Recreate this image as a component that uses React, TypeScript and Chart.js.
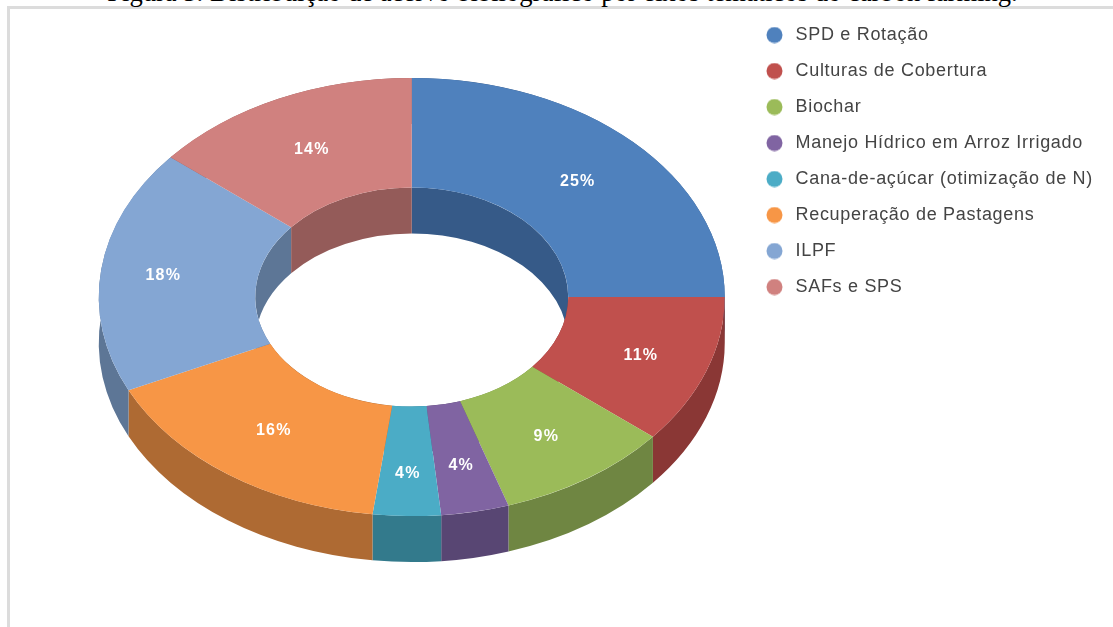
import React, { useEffect, useRef } from "react";
import { Chart, registerables } from "chart.js";

Chart.register(...registerables);

const titleText = "Figura 5. Distribuição de acervo bibliográfico por eixos temáticos do carbon farming.";
const categories = [
  "SPD e Rotação",
  "Culturas de Cobertura",
  "Biochar",
  "Manejo Hídrico em Arroz Irrigado",
  "Cana-de-açúcar (otimização de N)",
  "Recuperação de Pastagens",
  "ILPF",
  "SAFs e SPS",
];
const shares = [25, 11, 9, 3.5, 3.5, 16, 18, 14];
const topColors = ["#4f81bd", "#c0504d", "#9bbb59", "#8064a2", "#4bacc6", "#f79646", "#84a6d3", "#d0817f"];
const wallColors = ["#365a88", "#8a3735", "#6f8642", "#584673", "#337a8c", "#ae6a33", "#5d7696", "#945b59"];
const labelRadius = [0.75, 0.778, 0.765, 0.78, 0.8, 0.75, 0.8, 0.75];

const TILT = 0.7;
const DEPTH = 46;
const LEGEND_SPACING = "0.7px";
const LABEL_SPACING = "1.2px";

function markerFor(color: string) {
  const c = document.createElement("canvas");
  c.width = 17;
  c.height = 17;
  const g = c.getContext("2d")!;
  g.fillStyle = color;
  g.beginPath();
  g.arc(8.5, 8.5, 8, 0, Math.PI * 2);
  g.fill();
  return c;
}

const ring3d = {
  id: "ring3d",
  beforeLayout(chart: any) {
    chart.ctx.letterSpacing = LEGEND_SPACING;
  },
  beforeDraw(chart: any) {
    chart.ctx.letterSpacing = LEGEND_SPACING;
  },
  beforeDatasetsDraw(chart: any) {
    const { ctx } = chart;
    const arcs = chart.getDatasetMeta(0).data;
    const cx = arcs[0].x;
    const cy = arcs[0].y;
    ctx.save();
    ctx.translate(cx, cy);
    ctx.scale(1, TILT);
    const drop = DEPTH / TILT;
    arcs.forEach((a: any, i: number) => {
      ctx.fillStyle = wallColors[i];
      [a.outerRadius, a.innerRadius].forEach((r: number) => {
        ctx.beginPath();
        ctx.arc(0, 0, r, a.startAngle, a.endAngle);
        ctx.arc(0, drop, r, a.endAngle, a.startAngle, true);
        ctx.closePath();
        ctx.fill();
      });
    });
    ctx.translate(-cx, -cy);
  },
  afterDatasetsDraw(chart: any) {
    const { ctx } = chart;
    ctx.restore();
    const arcs = chart.getDatasetMeta(0).data;
    const total = shares.reduce((s, v) => s + v, 0);
    ctx.save();
    ctx.letterSpacing = LABEL_SPACING;
    ctx.fillStyle = "#ffffff";
    ctx.font = "bold 16px 'Liberation Sans'";
    ctx.textAlign = "center";
    ctx.textBaseline = "middle";
    arcs.forEach((a: any, i: number) => {
      const mid = (a.startAngle + a.endAngle) / 2;
      const r = a.outerRadius * labelRadius[i];
      const text = Math.round((shares[i] / total) * 100) + "%";
      ctx.fillText(text, a.x + Math.cos(mid) * r, a.y + Math.sin(mid) * r * TILT + 1);
    });
    ctx.restore();
  },
};

export default function App() {
  const ref = useRef<HTMLCanvasElement>(null);
  useEffect(() => {
    const chart = new Chart(ref.current!, {
      type: "doughnut",
      data: {
        labels: categories,
        datasets: [
          {
            data: shares,
            backgroundColor: topColors,
            borderWidth: 0,
            clip: false,
          } as any,
        ],
      },
      plugins: [ring3d as any],
      options: {
        animation: false,
        responsive: false,
        radius: 313,
        cutout: "50%",
        layout: { padding: { left: 79, right: 10, top: 8, bottom: 41 } },
        plugins: {
          tooltip: { enabled: false },
          legend: {
            position: "right",
            align: "start",
            labels: {
              font: { family: "'Liberation Sans'", size: 18 },
              color: "#444444",
              padding: 18,
              usePointStyle: true,
              pointStyleWidth: 24,
              boxHeight: 18,
              generateLabels: () =>
                categories.map((text, i) => ({
                  text,
                  fillStyle: topColors[i],
                  strokeStyle: topColors[i],
                  lineWidth: 0,
                  pointStyle: markerFor(topColors[i]),
                  hidden: false,
                  index: i,
                  fontColor: "#444444",
                })),
            },
          },
        },
      } as any,
    });
    return () => chart.destroy();
  }, []);
  return (
    <div style={{ position: "fixed", left: 0, top: 0, width: 1113, height: 627, overflow: "hidden", background: "#fff" }}>
      <div
        style={{
          position: "absolute",
          left: 7,
          top: 6,
          width: 1200,
          height: 700,
          borderLeft: "3px solid #dcdcdc",
          borderTop: "3px solid #dcdcdc",
        }}
      />
      <div
        style={{
          position: "absolute",
          left: 0,
          width: 1125,
          top: -23,
          textAlign: "center",
          whiteSpace: "nowrap",
          font: "26.6px 'Liberation Serif'",
          color: "#000",
        }}
      >
        {titleText}
      </div>
      <canvas ref={ref} width={1113} height={627} style={{ position: "absolute", left: 0, top: 0 }} />
    </div>
  );
}
